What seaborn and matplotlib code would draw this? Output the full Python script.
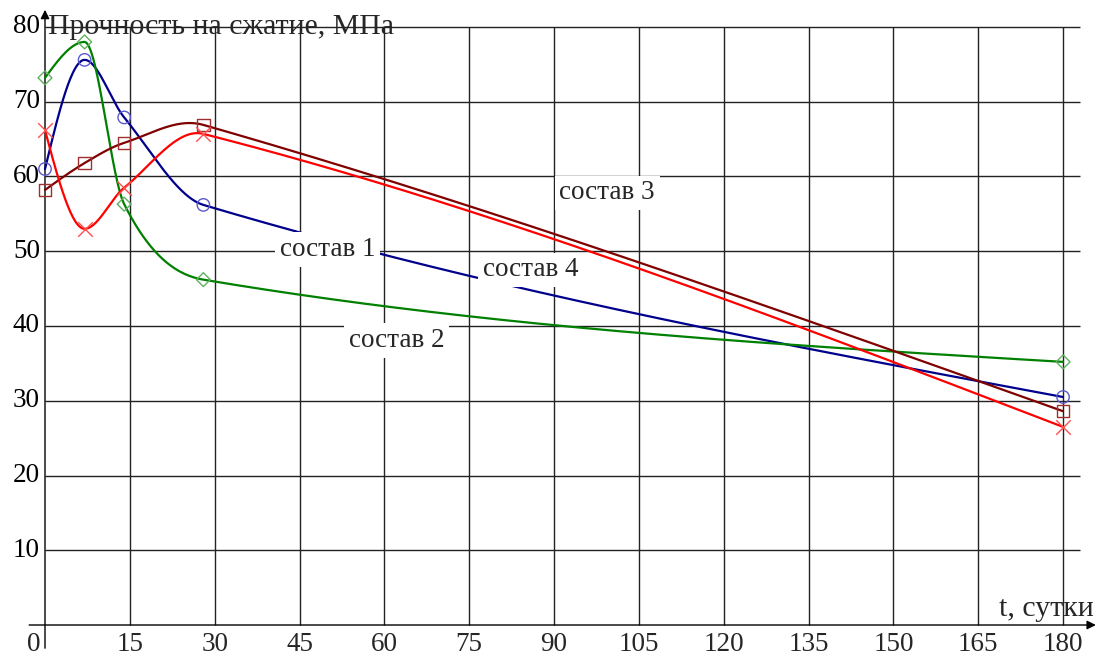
import numpy as np
import pandas as pd
import matplotlib
matplotlib.use("Agg")
import matplotlib.pyplot as plt
import seaborn as sns

# ---- data ----
days = [0, 7, 14, 28, 180]
sostav1 = [61.0, 75.6, 67.9, 56.2, 30.5]
sostav2 = [73.2, 78.0, 56.3, 46.2, 35.2]
sostav3 = [58.2, 61.8, 64.5, 66.9, 28.6]
sostav4 = [66.2, 53.0, 58.5, 65.7, 26.5]
series_names = ["состав 1", "состав 2", "состав 3", "состав 4"]
x_ticks = [0, 15, 30, 45, 60, 75, 90, 105, 120, 135, 150, 165, 180]
y_ticks = [10, 20, 30, 40, 50, 60, 70, 80]
y_title = "Прочность на сжатие, МПа"
x_title = "t, сутки"

colors = ["#00008c", "#008000", "#800000", "#ff0000"]
markers = ["o", "D", "s", "x"]
mcolors = ["#5a5ad0", "#60b060", "#a03030", "#ff5050"]


def smooth_curve(x, y, num=800):
    """Hermite spline: Catmull-Rom tangents, flat at local extrema between
    equal intervals, natural ends."""
    x = np.asarray(x, float)
    y = np.asarray(y, float)
    n = len(x)
    h = np.diff(x)
    d = np.diff(y) / h
    m = np.zeros(n)
    for i in range(1, n - 1):
        m[i] = (h[i - 1] * d[i - 1] + h[i] * d[i]) / (h[i - 1] + h[i])
        if d[i - 1] * d[i] < 0 and max(h[i - 1], h[i]) / min(h[i - 1], h[i]) < 3:
            m[i] = 0.0
    m[0] = (3 * d[0] - m[1]) / 2
    m[-1] = (3 * d[-1] - m[-2]) / 2
    xs = np.linspace(x[0], x[-1], num)
    idx = np.clip(np.searchsorted(x, xs, side="right") - 1, 0, n - 2)
    hh = h[idx]
    t = (xs - x[idx]) / hh
    h00 = 2 * t ** 3 - 3 * t ** 2 + 1
    h10 = t ** 3 - 2 * t ** 2 + t
    h01 = -2 * t ** 3 + 3 * t ** 2
    h11 = t ** 3 - t ** 2
    ys = h00 * y[idx] + h10 * hh * m[idx] + h01 * y[idx + 1] + h11 * hh * m[idx + 1]
    return xs, ys


sns.set_theme(style="white")
plt.rcParams["font.family"] = ["Liberation Serif", "DejaVu Serif"]

fig = plt.figure(figsize=(10.97, 6.57), dpi=100)
ax = fig.add_axes([0, 0, 1, 1])
ax.set_xlim(-7.956, 186.0)
ax.set_ylim(-4.28, 83.61)
ax.axis("off")

FS = 19.5
FS_T = 21.5

# grid
ax.hlines(y_ticks, 0, 183, colors="#222222", lw=1.0, zorder=1)
ax.vlines(x_ticks[1:], 0, 80, colors="#222222", lw=1.0, zorder=1)

# axes with arrows
ax.annotate("", xy=(185.8, 0), xytext=(-2.8, 0),
            arrowprops=dict(arrowstyle="-|>", color="black", lw=1.0,
                            mutation_scale=13, shrinkA=0, shrinkB=0), zorder=2)
ax.annotate("", xy=(0, 82.3), xytext=(0, -3.1),
            arrowprops=dict(arrowstyle="-|>", color="black", lw=1.0,
                            mutation_scale=13, shrinkA=0, shrinkB=0), zorder=2)

# tick labels
for t in y_ticks:
    ax.text(-0.9, t, str(t), ha="right", va="center", fontsize=FS, color="black")
for t in x_ticks:
    xpos = -2.0 if t == 0 else t
    ax.text(xpos, -3.45, str(t), ha="center", va="baseline", fontsize=FS)

ax.text(0.45, 80, y_title, ha="left", va="center", fontsize=FS_T, zorder=5)
ax.text(185.4, 0.35, x_title, ha="right", va="bottom", fontsize=FS_T, zorder=5)

# curves
all_series = [sostav1, sostav2, sostav3, sostav4]
for name, vals, c, m, mc in zip(series_names, all_series, colors, markers, mcolors):
    xs, ys = smooth_curve(days, vals)
    df = pd.DataFrame({"t": xs, "v": ys})
    sns.lineplot(data=df, x="t", y="v", ax=ax, color=c, lw=1.6,
                 estimator=None, sort=False, zorder=3)
    pts = pd.DataFrame({"t": days, "v": vals})
    if m == "x":
        sns.scatterplot(data=pts, x="t", y="v", ax=ax, marker=m, s=110,
                        color=mc, linewidth=1.0, zorder=4)
    else:
        sns.scatterplot(data=pts, x="t", y="v", ax=ax, marker=m,
                        s=80 if m != "D" else 50,
                        facecolor="none", edgecolor=mc, linewidth=1.0, zorder=4)

# curve labels
label_pos = {"состав 1": (50.0, 50.2), "состав 2": (62.2, 38.1),
             "состав 3": (99.4, 57.8), "состав 4": (85.9, 47.5)}
for name in series_names:
    lx, ly = label_pos[name]
    ax.text(lx, ly, name, ha="center", va="center", fontsize=FS, zorder=6,
            bbox=dict(facecolor="white", edgecolor="none", pad=3.5))

ax.set_xlabel("")
ax.set_ylabel("")
fig.savefig("out.png", dpi=100)
